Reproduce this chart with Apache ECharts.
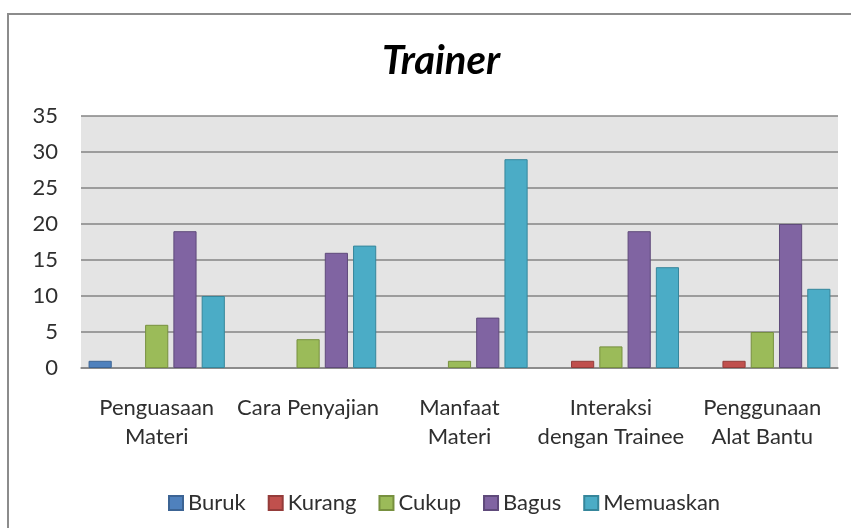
<!DOCTYPE html>
<html>
<head>
    <meta charset="utf-8">
    <title>Trainer</title>
    <script src="https://cdn.jsdelivr.net/npm/echarts@6/dist/echarts.min.js"></script>
    <style>
        html, body { margin: 0; padding: 0; background: #fff; }
    </style>
</head>
<body>
<div id="main" style="width: 851px;height:528px;"></div>
<script type="text/javascript">
    // aspek penilaian trainer
    var categories = ['Penguasaan\nMateri', 'Cara Penyajian', 'Manfaat\nMateri', 'Interaksi\ndengan Trainee', 'Penggunaan\nAlat Bantu'];

    var buruk = [1, 0, 0, 0, 0];
    var kurang = [0, 0, 0, 1, 1];
    var cukup = [6, 4, 1, 3, 5];
    var bagus = [19, 16, 7, 19, 20];
    var memuaskan = [10, 17, 29, 14, 11];

    var seriesNames = ['Buruk', 'Kurang', 'Cukup', 'Bagus', 'Memuaskan'];
    var seriesColors = ['#4f81bd', '#c0504d', '#9bbb59', '#8064a2', '#4bacc6'];
    var borderColors = ['#3c6494', '#943c3a', '#77903f', '#5f4a7b', '#36869b'];

    var yTicks = {min: 0, max: 35, interval: 5};

    var FONT = 'Lato';

    var myChart = echarts.init(document.getElementById('main'));

    var series = [buruk, kurang, cukup, bagus, memuaskan].map(function (vals, i) {
        return {
            name: seriesNames[i],
            type: 'bar',
            // zero bars get no outline, like excel
            data: vals.map(function (v) {
                return v === 0 ? {value: v, itemStyle: {borderWidth: 0}} : v
            }),
            barGap: '22%',
            barCategoryGap: '10%',
            itemStyle: {
                color: seriesColors[i],
                borderColor: borderColors[i],
                borderWidth: 1
            }
        }
    });

    var option = {
        animation: false,
        textStyle: {fontFamily: FONT},
        color: seriesColors,
        title: {
            text: 'Trainer',
            left: 436,
            textAlign: 'center',
            top: 36,
            textStyle: {
                fontFamily: FONT,
                fontSize: 40,
                fontWeight: 'bold',
                fontStyle: 'italic',
                color: '#000'
            }
        },
        legend: {
            top: 487,
            left: 163,
            itemWidth: 14,
            itemHeight: 14,
            itemGap: 22,
            icon: 'rect',
            textStyle: {fontFamily: FONT, fontSize: 22, color: '#2f2f2f'},
            data: seriesNames
        },
        graphic: [{
            type: 'rect',
            shape: {x: 8, y: 14, width: 900, height: 600},
            style: {fill: 'none', stroke: '#8c8c8c', lineWidth: 2},
            silent: true
        }],
        grid: {
            left: 81,
            top: 116,
            right: 13,
            height: 252,
            show: true,
            backgroundColor: '#e4e4e4',
            borderWidth: 0
        },
        xAxis: {
            type: 'category',
            data: categories,
            axisTick: {show: false},
            axisLine: {lineStyle: {color: '#858585', width: 1.5}},
            axisLabel: {
                interval: 0,
                margin: 25,
                fontFamily: FONT,
                fontSize: 22,
                lineHeight: 29,
                color: '#2f2f2f'
            }
        },
        yAxis: {
            type: 'value',
            min: yTicks.min,
            max: yTicks.max,
            interval: yTicks.interval,
            axisLine: {show: false},
            axisTick: {show: false},
            splitLine: {lineStyle: {color: '#858585', width: 1.5}},
            axisLabel: {
                margin: 23,
                fontFamily: FONT,
                fontSize: 22,
                color: '#2f2f2f'
            }
        },
        series: series
    };

    myChart.setOption(option);
</script>
</body>
</html>
